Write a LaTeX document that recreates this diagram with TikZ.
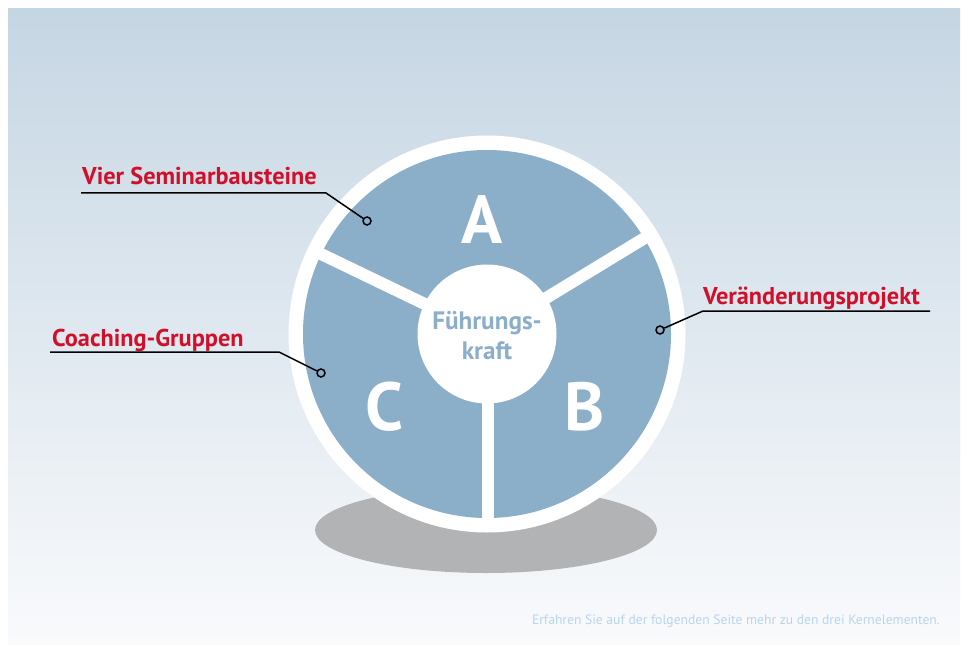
\documentclass[tikz,border=0pt]{standalone}
\usepackage{fontspec}
\setmainfont{PT Sans}
\definecolor{bgtop}{RGB}{197,214,227}
\definecolor{bgmid}{RGB}{222,231,240}
\definecolor{bgbot}{RGB}{249,250,252}
\definecolor{diskblue}{RGB}{139,174,201}
\definecolor{labelred}{RGB}{208,16,42}
\definecolor{shadowgray}{RGB}{178,179,181}
\definecolor{footblue}{RGB}{184,212,238}
\tikzset{
  labeltext/.style={anchor=base west, text=labelred, font=\fontsize{24.3}{28}\selectfont\bfseries, inner sep=0},
  leader/.style={draw=black, line width=1.5pt},
  dotc/.style={circle, draw=black, line width=1.5pt, fill=diskblue, minimum size=8pt, inner sep=0},
  bigletter/.style={text=white, font=\fontsize{68}{68}\selectfont\bfseries, inner sep=0},
  spoke/.style={draw=white, line width=12pt},
  centertext/.style={text=diskblue, align=center, font=\fontsize{25.2}{30}\selectfont\bfseries, inner sep=0},
}
\begin{document}
\begin{tikzpicture}[x=1pt,y=-1pt]
\useasboundingbox (0,0) rectangle (968,652);
\fill[white] (0,0) rectangle (968,652);
\shade[top color=bgtop, middle color=bgmid, bottom color=bgbot] (8,9) rectangle (960,644);
% shadow
\fill[shadowgray] (486,530) ellipse [x radius=171, y radius=43];
% wheel
\coordinate (c) at (487,334);
\fill[white] (c) circle [radius=198.5];
\fill[diskblue] (c) circle [radius=184];
\coordinate (sL) at (315.8,251.5);
\coordinate (sR) at (649.3,235.2);
\coordinate (sB) at (487.5,524);
\begin{scope}
\clip (c) circle [radius=186];
\draw[spoke] (c) -- (sL);
\draw[spoke] (c) -- (sR);
\draw[spoke] (487.5,334) -- (sB);
\end{scope}
\node[circle, fill=white, minimum size=139pt, inner sep=0] (core) at (c) {};
\node[centertext] (ctext) at (487,336) {Führungs-\\kraft};
% letters
\node[bigletter] (A) at (482,220) {A};
\node[bigletter] (B) at (585,407) {B};
\node[bigletter] (C) at (385,407) {C};
% labels
\node[labeltext] (lv) at (82,185) {Vier Seminarbausteine};
\coordinate (lv1) at (81,193);
\coordinate (lv2) at (326,193);
\node[dotc] (dv) at (367,221) {};
\draw[leader] (lv1) -- (lv2) -- (dv);
\node[labeltext] (lc) at (52,346) {Coaching-Gruppen};
\coordinate (lc1) at (50,352);
\coordinate (lc2) at (279,352);
\node[dotc] (dc) at (321,373) {};
\draw[leader] (lc1) -- (lc2) -- (dc);
\node[labeltext] (lp) at (703,304) {Veränderungsprojekt};
\coordinate (lp1) at (930,311);
\coordinate (lp2) at (703,311);
\node[dotc] (dp) at (660,330) {};
\draw[leader] (lp1) -- (lp2) -- (dp);
% footer
\node[anchor=base east, text=footblue, font=\fontsize{13.6}{16}\selectfont, inner sep=0] (foot) at (940,624) {Erfahren Sie auf der folgenden Seite mehr zu den drei Kernelementen.};
\end{tikzpicture}
\end{document}
